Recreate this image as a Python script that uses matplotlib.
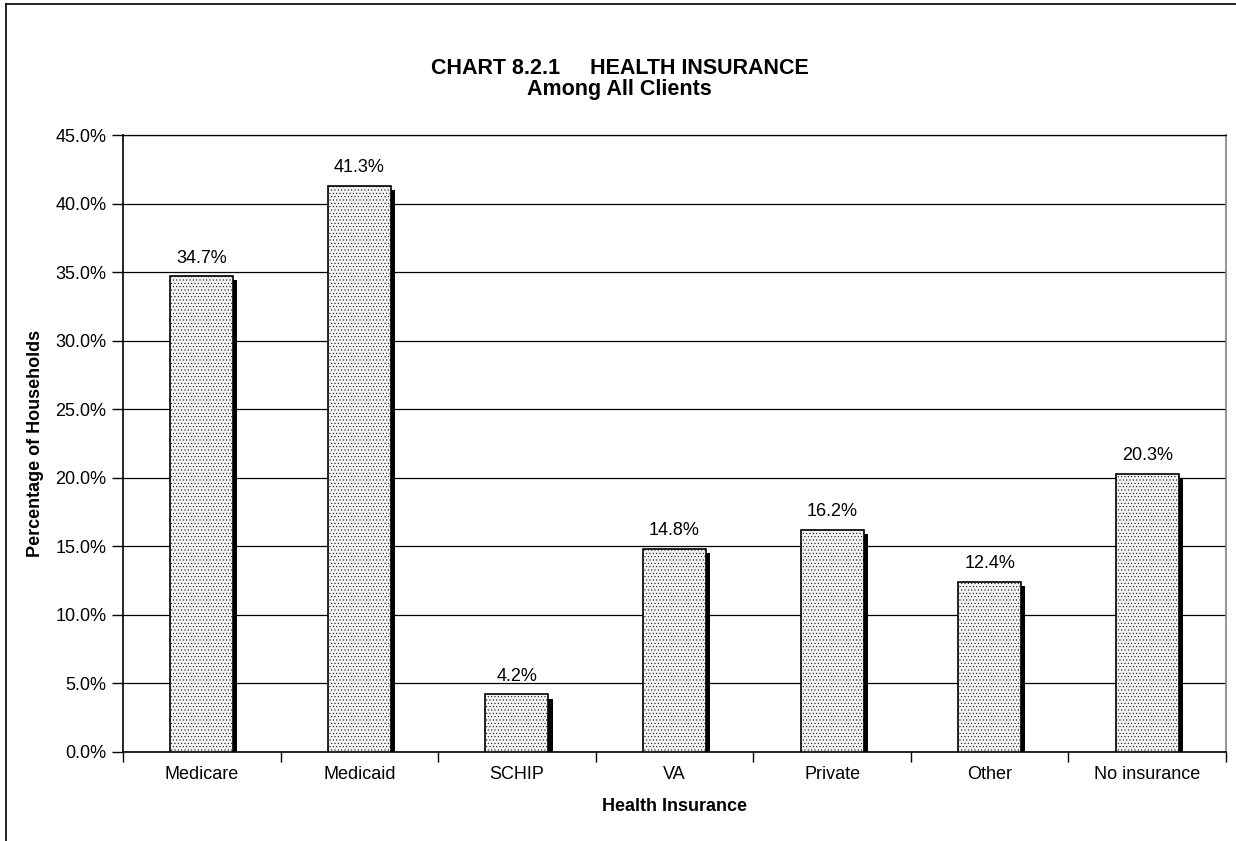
import numpy as np
import matplotlib
matplotlib.use("Agg")
import matplotlib.pyplot as plt
import matplotlib.patheffects as pe
from matplotlib.lines import Line2D
from matplotlib.ticker import FuncFormatter, MultipleLocator

categories = ["Medicare", "Medicaid", "SCHIP", "VA", "Private", "Other", "No insurance"]
values = [34.7, 41.3, 4.2, 14.8, 16.2, 12.4, 20.3]
value_labels = ["34.7%", "41.3%", "4.2%", "14.8%", "16.2%", "12.4%", "20.3%"]

plt.rcParams['font.family'] = ['Liberation Sans', 'DejaVu Sans']
plt.rcParams['hatch.color'] = '#cacaca'
plt.rcParams['hatch.linewidth'] = 0.35

fig = plt.figure(figsize=(12.36, 8.41), dpi=100)
ax = fig.add_axes([123/1236, 1 - 752/841, (1226 - 123)/1236, (752 - 135)/841])

x = np.arange(len(categories))
shadow = [pe.SimplePatchShadow(offset=(3, -3), shadow_rgbFace='black', alpha=1.0), pe.Normal()]
bars = ax.bar(x, values, width=0.4, color='#f3f3f3', edgecolor='black', linewidth=1.2,
              hatch='.....', zorder=3)
for b in bars:
    b.set_path_effects(shadow)

for xi, v, lab in zip(x, values, value_labels):
    ax.annotate(lab, (xi, v), xytext=(0, 7), textcoords='offset points',
                ha='center', va='bottom', fontsize=13)

ax.set_xlim(-0.5, len(categories) - 0.5)
ax.set_ylim(0, 45)
ax.yaxis.set_major_locator(MultipleLocator(5))
ax.yaxis.set_major_formatter(FuncFormatter(lambda v, p: f"{v:.1f}%"))
ax.yaxis.grid(True, color='black', linewidth=0.9, zorder=0)
ax.set_axisbelow(True)

ax.set_xticks(x)
ax.set_xticklabels(categories, fontsize=13)
ax.set_xticks(np.arange(-0.5, len(categories)), minor=True)
ax.tick_params(axis='x', which='major', length=0, pad=10)
ax.tick_params(axis='x', which='minor', length=7, width=1, direction='out')
ax.tick_params(axis='y', length=8, width=1, direction='out', labelsize=13, pad=4)

for s in ['left', 'bottom']:
    ax.spines[s].set_linewidth(1.2)
ax.spines['top'].set_linewidth(0.9)
ax.spines['right'].set_color('#808080')
ax.spines['right'].set_linewidth(1.2)

ax.set_ylabel("Percentage of Households", fontsize=13, fontweight='bold', labelpad=8)
ax.set_xlabel("Health Insurance", fontsize=13, fontweight='bold', labelpad=11)

fig.text(0.5015, 1 - 68/841, "CHART 8.2.1     HEALTH INSURANCE", ha='center', va='center',
         fontsize=15.5, fontweight='bold')
fig.text(0.5015, 1 - 90/841, "Among All Clients", ha='center', va='center',
         fontsize=15.5, fontweight='bold')

# outer chart frame (left and top edges visible)
fig.add_artist(Line2D([5.5/1236, 5.5/1236], [0, 1 - 3.5/841], color='black', linewidth=1.2,
                      transform=fig.transFigure))
fig.add_artist(Line2D([5.5/1236, 1], [1 - 3.5/841, 1 - 3.5/841], color='black', linewidth=1.2,
                      transform=fig.transFigure))

fig.savefig("out.png", dpi=100)
